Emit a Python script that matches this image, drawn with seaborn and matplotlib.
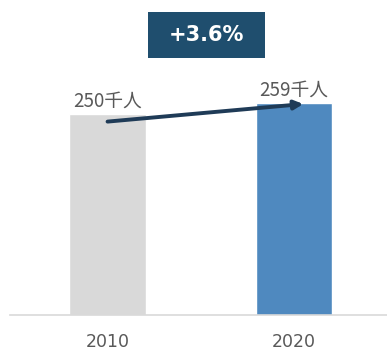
import matplotlib
matplotlib.use("Agg")
import matplotlib.pyplot as plt
from matplotlib.patches import Rectangle
import seaborn as sns
import pandas as pd

# data
years = ["2010", "2020"]
values = [250, 259]
labels = ["250千人", "259千人"]
change_label = "+3.6%"
bar_colors = ["#d9d9d9", "#4f89bf"]

sns.set_theme(style="white")
plt.rcParams['font.family'] = ['Noto Sans CJK JP', 'DejaVu Sans']

df = pd.DataFrame({"year": years, "value": values})

fig = plt.figure(figsize=(3.87, 3.54), dpi=100)
ax = fig.add_axes([0.026, 0.110, 0.974, 0.89])

sns.barplot(data=df, x="year", y="value", hue="year", palette=bar_colors,
            width=0.41, legend=False, ax=ax, saturation=1)

ax.set_ylim(90, 340.8)
ax.set_xlim(-0.523, 1.499)
ax.set_xlabel("")
ax.set_ylabel("")
ax.set_yticks([])
for s in ["top", "right", "left"]:
    ax.spines[s].set_visible(False)
ax.spines["bottom"].set_color("#d9d9d9")
ax.spines["bottom"].set_linewidth(1.2)
ax.tick_params(axis="x", length=0, pad=13, labelcolor="#595959")
for t in ax.get_xticklabels():
    t.set_fontfamily("DejaVu Sans")
    t.set_fontsize(12.5)

# value labels
for i, (v, lab) in enumerate(zip(values, labels)):
    ax.text(i, v + 2, lab, ha="center", va="bottom", fontsize=13.5, color="#595959")

# arrow between bars
ax.annotate("", xy=(1.05, values[1] - 1), xytext=(0.0, values[0] - 6),
            arrowprops=dict(arrowstyle="-|>", color="#1f3b57", lw=2.8,
                            mutation_scale=13, shrinkA=0, shrinkB=0))

# change box
fig.patches.append(Rectangle((148 / 387, 1 - 58 / 354), 117 / 387, 46 / 354,
                             transform=fig.transFigure, facecolor="#1f4e6e",
                             edgecolor="none", zorder=5))
fig.text(206.5 / 387, 1 - 35 / 354, change_label, ha="center", va="center",
         fontsize=15, fontweight="bold", color="white", family="DejaVu Sans", zorder=6)

fig.savefig("out.png", dpi=100)
